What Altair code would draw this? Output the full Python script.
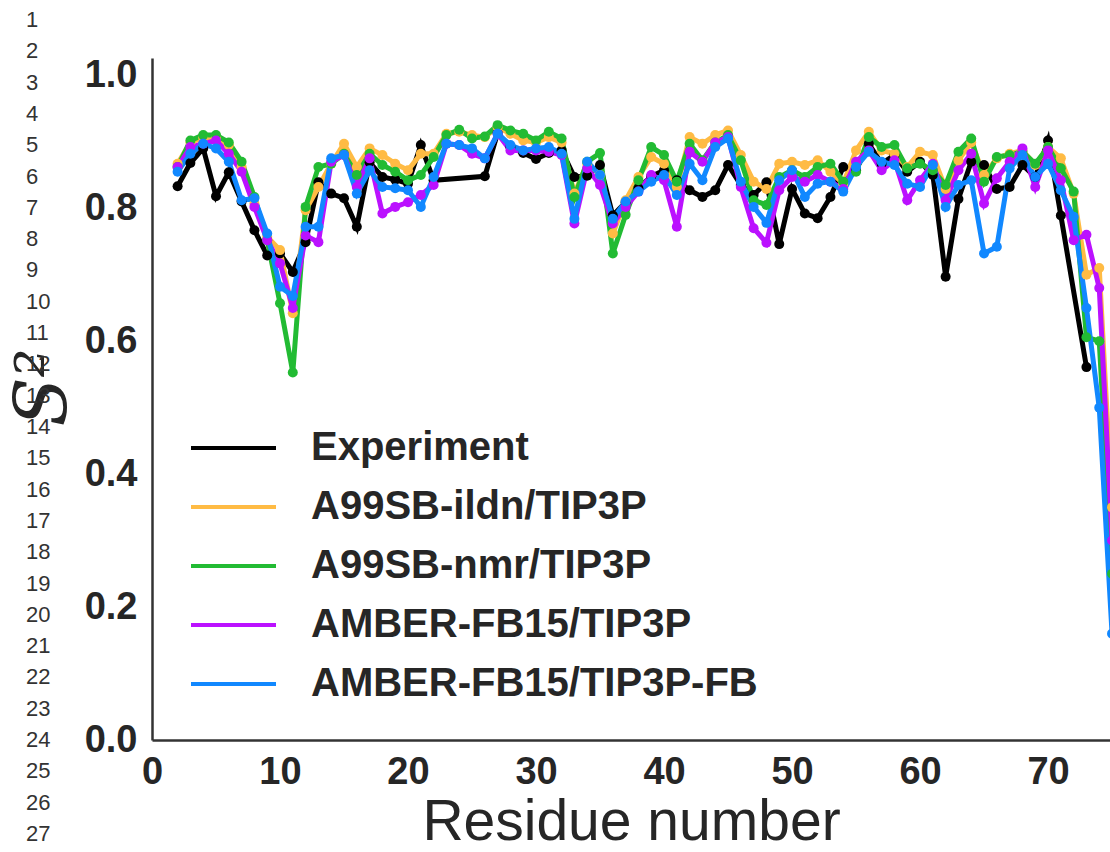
import altair as alt
import pandas as pd

residues = list(range(2, 76))

experiment = [0.833, 0.868, 0.890, 0.818, 0.854, 0.810, 0.767, 0.729, 0.732, 0.704,
              0.749, 0.839, 0.822, 0.815, 0.772, 0.869, 0.847, 0.843, 0.837, 0.895,
              0.842, None, None, None, 0.848, 0.913, 0.892, 0.883, 0.874, 0.883,
              0.887, 0.847, 0.849, 0.865, 0.789, 0.809, 0.830, 0.848, 0.857, 0.842,
              0.827, 0.817, 0.827, 0.865, 0.835, 0.820, 0.839, 0.746, 0.829, 0.792,
              0.785, 0.817, 0.862, 0.857, 0.897, 0.867, 0.880, 0.855, 0.870, 0.850,
              0.697, 0.814, 0.870, 0.865, 0.829, 0.832, 0.865, 0.847, 0.902, 0.789,
              None, 0.561, None, None]

ildn = [0.867, 0.899, 0.906, 0.906, 0.895, 0.862, 0.807, 0.757, 0.737, 0.642,
        0.797, 0.832, 0.867, 0.897, 0.862, 0.890, 0.880, 0.867, 0.857, 0.882,
        0.882, 0.912, 0.915, 0.910, 0.907, 0.922, 0.912, 0.902, 0.899, 0.907,
        0.899, 0.822, 0.867, 0.850, 0.762, 0.812, 0.847, 0.877, 0.867, 0.832,
        0.907, 0.897, 0.910, 0.917, 0.880, 0.840, 0.829, 0.867, 0.870, 0.865,
        0.872, 0.855, 0.837, 0.887, 0.915, 0.887, 0.882, 0.862, 0.885, 0.880,
        0.829, 0.872, 0.899, 0.850, 0.875, 0.882, 0.887, 0.865, 0.892, 0.875,
        0.822, 0.700, 0.710, 0.350]

nmr = [0.862, 0.902, 0.910, 0.910, 0.899, 0.870, 0.817, 0.752, 0.657, 0.553,
       0.802, 0.862, 0.867, 0.882, 0.850, 0.882, 0.865, 0.855, 0.842, 0.850,
       0.877, 0.910, 0.918, 0.905, 0.908, 0.925, 0.917, 0.912, 0.902, 0.915,
       0.905, 0.817, 0.870, 0.883, 0.732, 0.790, 0.842, 0.892, 0.880, 0.840,
       0.897, 0.872, 0.899, 0.910, 0.872, 0.812, 0.805, 0.847, 0.857, 0.847,
       0.862, 0.867, 0.840, 0.855, 0.907, 0.892, 0.895, 0.860, 0.867, 0.857,
       0.835, 0.885, 0.905, 0.840, 0.877, 0.880, 0.885, 0.867, 0.892, 0.860,
       0.825, 0.606, 0.600, 0.250]

fb15 = [0.862, 0.892, 0.897, 0.902, 0.882, 0.855, 0.802, 0.752, 0.717, 0.650,
        0.759, 0.749, 0.870, 0.880, 0.832, 0.875, 0.792, 0.802, 0.809, 0.820,
        0.835, 0.897, 0.895, 0.882, 0.875, 0.912, 0.887, 0.887, 0.887, 0.885,
        0.880, 0.777, 0.860, 0.835, 0.777, 0.802, 0.825, 0.850, 0.842, 0.772,
        0.885, 0.870, 0.899, 0.907, 0.832, 0.770, 0.748, 0.827, 0.847, 0.840,
        0.850, 0.840, 0.829, 0.870, 0.887, 0.857, 0.872, 0.812, 0.842, 0.867,
        0.812, 0.857, 0.882, 0.807, 0.845, 0.870, 0.890, 0.832, 0.887, 0.842,
        0.752, 0.760, 0.680, 0.300]

fb15_fb = [0.855, 0.882, 0.897, 0.890, 0.870, 0.812, 0.815, 0.762, 0.682, 0.668,
           0.772, 0.772, 0.875, 0.880, 0.822, 0.857, 0.832, 0.830, 0.827, 0.802,
           0.847, 0.897, 0.895, 0.890, 0.875, 0.912, 0.895, 0.887, 0.890, 0.892,
           0.882, 0.784, 0.870, 0.850, 0.784, 0.810, 0.825, 0.840, 0.850, 0.820,
           0.867, 0.842, 0.892, 0.905, 0.840, 0.802, 0.778, 0.842, 0.857, 0.817,
           0.837, 0.840, 0.825, 0.862, 0.885, 0.870, 0.865, 0.837, 0.832, 0.865,
           0.802, 0.835, 0.842, 0.732, 0.742, 0.860, 0.880, 0.847, 0.867, 0.827,
           0.787, 0.650, 0.500, 0.160]

series_names = ["Experiment", "A99SB-ildn/TIP3P", "A99SB-nmr/TIP3P",
                "AMBER-FB15/TIP3P", "AMBER-FB15/TIP3P-FB"]
series_values = [experiment, ildn, nmr, fb15, fb15_fb]
series_colors = ["#000000", "#FFBB44", "#22BB33", "#BB11FF", "#1188FF"]

line_numbers = list(range(1, 28))
x_ticks = [0, 10, 20, 30, 40, 50, 60, 70]
y_ticks = [0.0, 0.2, 0.4, 0.6, 0.8, 1.0]

rows = []
for name, vals in zip(series_names, series_values):
    for r, v in zip(residues, vals):
        if v is not None:
            rows.append({"residue": r, "s2": v, "series": name})
df = pd.DataFrame(rows)

FONT = "Liberation Sans"
TXT = "#262626"

x_enc = alt.X("residue:Q",
              scale=alt.Scale(domain=[0, 74.84], nice=False, zero=False),
              axis=alt.Axis(values=x_ticks, format="d", title="Residue number",
                            grid=False, ticks=False, labelPadding=13, labelFlush=False,
                            labelFont=FONT, labelFontSize=38, labelFontWeight="bold",
                            labelColor=TXT, domainColor="#333333", domainWidth=2.5,
                            titleFont=FONT, titleFontSize=57, titleFontWeight="normal",
                            titleColor=TXT, titleX=479, titleY=99,
                            titleBaseline="alphabetic", titleAlign="center"))
y_enc = alt.Y("s2:Q",
              scale=alt.Scale(domain=[0, 1.026], nice=False),
              axis=alt.Axis(values=y_ticks, format=".1f", title="S²",
                            grid=False, ticks=False, labelPadding=15, labelFlush=False,
                            labelFont=FONT, labelFontSize=38, labelFontWeight="bold",
                            labelColor=TXT, domainColor="#333333", domainWidth=2.5,
                            titleFont="DejaVu Serif", titleFontStyle="italic",
                            titleFontSize=72, titleFontWeight="normal", titleColor=TXT,
                            titleAngle=270, titleX=-108, titleY=329,
                            titleAlign="center", titleBaseline="middle"))
color_enc = alt.Color("series:N",
                      scale=alt.Scale(domain=series_names, range=series_colors),
                      legend=alt.Legend(title=None, orient="none", legendX=37, legendY=365,
                                        symbolType="stroke", symbolSize=7225,
                                        symbolStrokeWidth=4, clipHeight=50, rowPadding=9,
                                        labelFont=FONT, labelFontSize=40,
                                        labelFontWeight="bold", labelColor=TXT,
                                        labelOffset=33, labelLimit=0, padding=0))

lines = alt.Chart(df).mark_line(strokeWidth=5, clip=True).encode(
    x=x_enc, y=y_enc, color=color_enc, detail="series:N")
points = alt.Chart(df).mark_circle(size=100, opacity=1, clip=True).encode(
    x="residue:Q", y="s2:Q",
    color=alt.Color("series:N", scale=alt.Scale(domain=series_names, range=series_colors),
                    legend=None))

main = alt.layer(lines, points)

nums = alt.Chart(pd.DataFrame({"n": line_numbers})).mark_text(
    align="left", baseline="middle", font=FONT, fontSize=22, color="#333333"
).encode(
    x=alt.value(-126),
    y=alt.Y("n:Q", scale=alt.Scale(domain=[1, 27], range=[-38, 776]), axis=None),
    text="n:Q")

chart = alt.layer(main, nums).resolve_scale(y="independent").properties(
    width=958, height=682,
    autosize=alt.AutoSizeParams(type="none"),
    padding={"left": 152, "top": 58, "right": 0, "bottom": 112},
    background="white",
).configure_view(stroke=None)

chart.save("out.html", embed_options={"renderer": "svg", "actions": False})
